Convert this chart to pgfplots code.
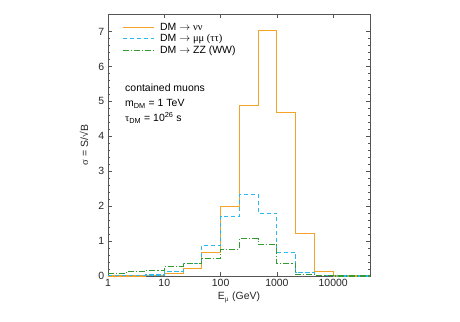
\documentclass[border=0pt]{standalone}
\usepackage{fontspec}
\setmainfont{Liberation Sans}
\newfontfamily\grk{Liberation Serif}
\usepackage{pgfplots}
\pgfplotsset{compat=1.18}
\definecolor{cOr}{RGB}{245,163,40}
\definecolor{cBl}{RGB}{45,185,240}
\definecolor{cGr}{RGB}{50,155,50}
\definecolor{cFr}{RGB}{85,85,85}
\begin{document}
\fontsize{10.5}{12}\selectfont
\begin{tikzpicture}
\useasboundingbox (-108bp,-46bp) rectangle (352bp,276bp);
\begin{axis}[
  scale only axis, width=262bp, height=262bp,
  xmode=log, xmin=1, xmax=45000, ymin=0, ymax=7.5,
  log basis x=10,
  xtick={1,10,100,1000,10000},
  xticklabels={1,10,100,1000,10000},
  ytick={0,1,2,3,4,5,6,7},
  minor y tick num=4,
  tick align=inside,
  major tick length=4bp, minor tick length=2bp,
  axis line style={cFr, line width=0.9bp},
  every tick/.style={cFr, line width=0.6bp},
  /pgf/number format/assume math mode=true,
  tick label style={font=\fontsize{10.5}{12}\selectfont, text=black!85},
  xlabel={E\textsubscript{\grk μ} (GeV)},
  ylabel={{\grk σ} = S/√B},
  label style={font=\fontsize{10.5}{12}\selectfont, text=black!85},
  xlabel style={yshift=2bp},
  ylabel style={yshift=3bp},
  legend style={draw=none, fill=none, at={(0.049,0.978)}, anchor=north west,
     font=\fontsize{10.5}{10}\selectfont, row sep=-1.2pt, inner sep=1pt,
     /tikz/every odd column/.append style={column sep=4bp}},
  legend cell align=left,
  legend image code/.code={\draw[#1] (0bp,0bp) -- (31bp,0bp);},
]
\addplot[cOr, line width=1.1bp, const plot] coordinates {
 (1,0) (2.1544,0) (4.6416,0.01) (10,0.08) (21.544,0.22) (46.416,0.68)
 (100,2.0) (215.44,4.87) (464.16,7.03) (1000,4.67) (2154.4,1.21)
 (4641.6,0.12) (10000,0) (45000,0)};
\addlegendentry{DM $\rightarrow$ {\grk νν}}
\addplot[cBl, line width=1.1bp, const plot, dash pattern=on 4.5bp off 2.5bp] coordinates {
 (1,0.01) (2.1544,0.01) (4.6416,0.03) (10,0.12) (21.544,0.36) (46.416,0.87)
 (100,1.70) (215.44,2.34) (464.16,1.80) (1000,0.68) (2154.4,0.10)
 (4641.6,0.02) (10000,0) (45000,0)};
\addlegendentry{DM $\rightarrow$ {\grk μμ (ττ)}}
\addplot[cGr, line width=1.1bp, const plot, dash pattern=on 6bp off 2bp on 1.2bp off 2bp] coordinates {
 (1,0.07) (2.1544,0.14) (4.6416,0.17) (10,0.28) (21.544,0.36) (46.416,0.50)
 (100,0.77) (215.44,1.07) (464.16,0.91) (1000,0.36) (2154.4,0.05)
 (4641.6,0.02) (10000,0) (45000,0)};
\addlegendentry{DM $\rightarrow$ ZZ (WW)}
\node[anchor=north west, align=left, font=\fontsize{10.5}{15}\selectfont, inner sep=0pt]
  at (rel axis cs:0.065,0.733) {contained muons\\ m\textsubscript{DM} = 1 TeV\\ {\grk τ}\textsubscript{DM} = 10\textsuperscript{26} s};
\end{axis}
\end{tikzpicture}
\end{document}
